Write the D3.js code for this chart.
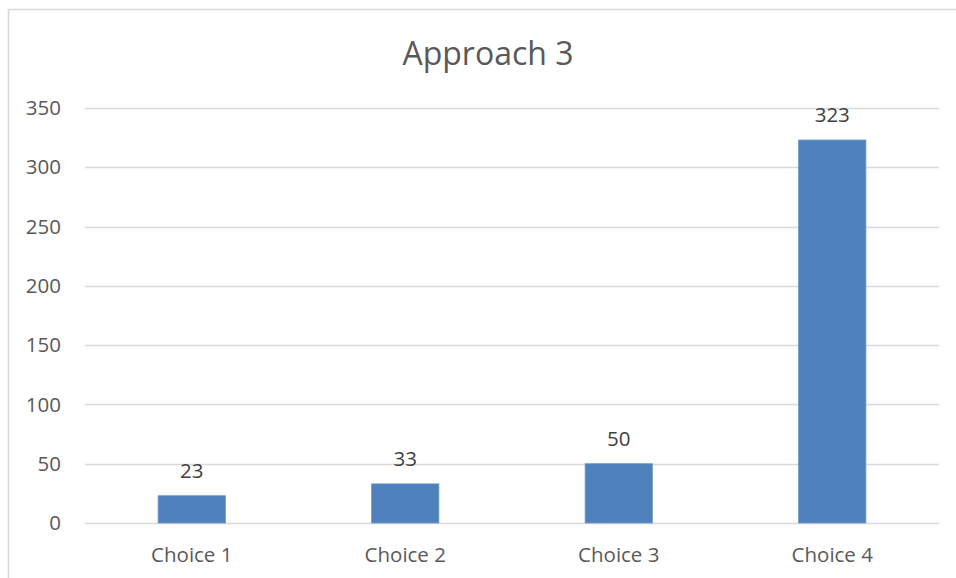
<!DOCTYPE html>
<html>
<head>
<meta charset="utf-8">
<script src="https://cdn.jsdelivr.net/npm/d3@7"></script>
<style>
  body { margin: 0; background: #fff; }
  text { font-family: "Open Sans", sans-serif; }
</style>
</head>
<body>
<div id="chart"></div>
<script>
// data
var categories = ["Choice 1", "Choice 2", "Choice 3", "Choice 4"];
var values = [23, 33, 50, 323];
var yTicks = [0, 50, 100, 150, 200, 250, 300, 350];
var title = "Approach 3";

var width = 956, height = 578;
var margin = {top: 108, right: 17, bottom: 55, left: 85};

var svg = d3.select("#chart")
  .append("svg")
    .attr("width", width)
    .attr("height", height);

// chart frame (only top and left edges show in the picture)
svg.append("path")
  .attr("d", "M8.5," + height + "V9.5H" + width)
  .attr("fill", "none")
  .attr("stroke", "#d9d9d9")
  .attr("stroke-width", 1.5);

var x = d3.scaleBand()
  .domain(categories)
  .range([margin.left, width - margin.right])
  .paddingInner(0.685)
  .paddingOuter(0.3425);

var y = d3.scaleLinear()
  .domain([0, 350])
  .range([height - margin.bottom, margin.top]);

// gridlines
svg.append("g")
  .selectAll("line")
  .data(yTicks)
  .enter()
  .append("line")
    .attr("x1", margin.left)
    .attr("x2", width - margin.right)
    .attr("y1", function(d) { return Math.round(y(d)) + 0.5; })
    .attr("y2", function(d) { return Math.round(y(d)) + 0.5; })
    .attr("stroke", "#d9d9d9")
    .attr("stroke-width", 1.5);

// y tick labels
svg.append("g")
  .selectAll("text")
  .data(yTicks)
  .enter()
  .append("text")
    .attr("x", 61)
    .attr("y", function(d) { return y(d); })
    .attr("dy", "0.35em")
    .attr("text-anchor", "end")
    .style("font-size", "20.5px")
    .style("fill", "#595959")
    .text(function(d) { return d; });

// bars
svg.append("g")
  .selectAll("rect")
  .data(values)
  .enter()
  .append("rect")
    .attr("x", function(d, i) { return x(categories[i]); })
    .attr("y", function(d) { return y(d); })
    .attr("width", x.bandwidth())
    .attr("height", function(d) { return y(0) - y(d); })
    .style("fill", "#4f81bd")
    .style("stroke", "#6d97cc")
    .style("stroke-width", 0.8);

// value labels
svg.append("g")
  .selectAll("text")
  .data(values)
  .enter()
  .append("text")
    .attr("x", function(d, i) { return x(categories[i]) + x.bandwidth() / 2; })
    .attr("y", function(d) { return y(d) - 18; })
    .attr("text-anchor", "middle")
    .style("font-size", "20.5px")
    .style("fill", "#404040")
    .text(function(d) { return d; });

// x labels
svg.append("g")
  .selectAll("text")
  .data(categories)
  .enter()
  .append("text")
    .attr("x", function(d) { return x(d) + x.bandwidth() / 2; })
    .attr("y", 562)
    .attr("text-anchor", "middle")
    .style("font-size", "20.5px")
    .style("fill", "#595959")
    .text(function(d) { return d; });

// title
svg.append("text")
  .attr("x", 488)
  .attr("y", 65)
  .attr("text-anchor", "middle")
  .style("font-size", "32px")
  .style("fill", "#595959")
  .text(title);
</script>
</body>
</html>
